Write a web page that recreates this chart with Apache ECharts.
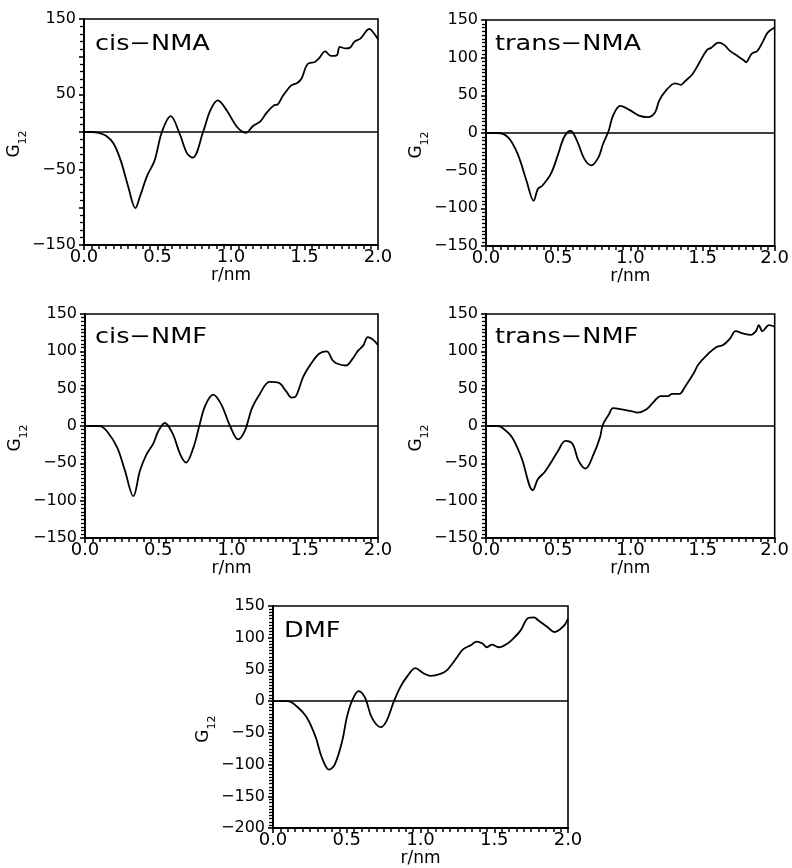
<!DOCTYPE html>
<html><head><meta charset="utf-8">
<script src="https://cdn.jsdelivr.net/npm/echarts@6/dist/echarts.min.js"></script>
<style>html,body{margin:0;padding:0;background:#fff}#c{width:792px;height:868px}</style>
</head><body><div id="c"></div>
<script>
// ---- data (r in nm, G12) ----
const cisNMA_r = [0,0.05,0.1,0.15,0.2,0.25,0.3,0.35,0.38,0.43,0.48,0.53,0.59,0.65,0.7,0.74,0.81,0.86,0.91,0.97,1.04,1.1,1.15,1.2,1.24,1.29,1.32,1.35,1.41,1.45,1.48,1.52,1.57,1.6,1.64,1.68,1.72,1.74,1.78,1.81,1.84,1.88,1.92,1.94,1.98,2.0];
const cisNMA_g = [0,0,-1,-5,-15,-38,-72,-101,-86,-58,-38,0,21,-2,-28,-34,0,29,42,29,7,-1,8,14,25,35,37,47,62,65,71,90,93,98,107,101,102,113,111,112,120,124,134,137,129,123];

const transNMA_r = [0,0.08,0.155,0.22,0.28,0.33,0.36,0.39,0.45,0.5,0.54,0.585,0.63,0.68,0.73,0.78,0.81,0.85,0.88,0.93,1.0,1.06,1.12,1.17,1.2,1.245,1.31,1.35,1.38,1.43,1.48,1.53,1.56,1.61,1.65,1.69,1.745,1.79,1.8,1.84,1.88,1.92,1.95,2.0];
const transNMA_g = [0,0,-6,-28,-63,-90,-74,-70,-54,-28,-6,3,-10,-34,-43,-32,-15,3,23,36,30,23,21,27,43,56,66,64,69,78,94,110,113,120,117,109,102,96,94,105,109,122,133,140];

const cisNMF_r = [0,0.1,0.15,0.22,0.27,0.33,0.375,0.42,0.465,0.5,0.545,0.6,0.65,0.69,0.74,0.78,0.82,0.875,0.93,0.99,1.045,1.09,1.14,1.19,1.26,1.32,1.375,1.41,1.44,1.49,1.545,1.6,1.65,1.69,1.715,1.78,1.83,1.86,1.9,1.93,1.97,2.0];
const cisNMF_g = [0,0,-7,-29,-58,-94,-60,-38,-24,-7,4,-11,-38,-49,-29,0,27,42,29,0,-18,-7,24,42,59,58,46,38,40,66,84,97,100,88,84,81,91,100,108,119,115,108];

const transNMF_r = [0,0.08,0.11,0.18,0.245,0.325,0.36,0.405,0.45,0.5,0.55,0.6,0.64,0.69,0.745,0.79,0.81,0.85,0.88,0.95,1.005,1.05,1.11,1.165,1.21,1.26,1.29,1.34,1.38,1.44,1.47,1.53,1.6,1.64,1.69,1.73,1.78,1.835,1.87,1.89,1.915,1.96,2.0];
const transNMF_g = [0,0,-2,-15,-42,-86,-71,-62,-49,-33,-20,-24,-46,-57,-38,-15,2,15,24,22,20,18,22,33,40,40,43,43,53,71,82,95,106,108,117,127,124,122,127,135,127,135,133];

const DMF_r = [0,0.1,0.16,0.23,0.29,0.33,0.38,0.42,0.47,0.5,0.535,0.58,0.625,0.67,0.73,0.77,0.82,0.865,0.91,0.965,1.02,1.07,1.135,1.18,1.25,1.29,1.34,1.38,1.42,1.45,1.485,1.53,1.59,1.63,1.68,1.73,1.77,1.8,1.86,1.91,1.95,1.98,2.0];
const DMF_g = [0,0,-8,-26,-57,-88,-108,-99,-62,-26,0,16,5,-26,-41,-31,0,23,39,52,44,40,43,49,70,82,88,94,91,85,89,85,91,99,112,131,132,127,117,109,114,121,130];

const panelNames = ['cis\u2212NMA','trans\u2212NMA','cis\u2212NMF','trans\u2212NMF','DMF'];
const xTickLabels = [0, 0.5, 1.0, 1.5, 2.0];
const yTicks_cisNMA = [-150,-50,50,150];
const yTicks_std = [-150,-100,-50,0,50,100,150];
const yTicks_DMF = [-200,-150,-100,-50,0,50,100,150];

// ---- layout ----
const FONT = 'DejaVu Sans';
const panels = [
  {r: cisNMA_r, g: cisNMA_g, ticks: yTicks_cisNMA, min:-150, max:150, minorSplit:5, grid:{left:84, top:19, width:294, height:226}, lab:[95,45]},
  {r: transNMA_r, g: transNMA_g, ticks: yTicks_std, min:-150, max:150, minorSplit:10, grid:{left:486, top:20, width:293, height:226}, lab:[495,45]},
  {r: cisNMF_r, g: cisNMF_g, ticks: yTicks_std, min:-150, max:150, minorSplit:10, grid:{left:85, top:314, width:293, height:224}, lab:[95,338]},
  {r: transNMF_r, g: transNMF_g, ticks: yTicks_std, min:-150, max:150, minorSplit:10, grid:{left:486, top:314, width:293, height:224}, lab:[495,338]},
  {r: DMF_r, g: DMF_g, ticks: yTicks_DMF, min:-200, max:150, minorSplit:10, grid:{left:273, top:606, width:295, height:225}, lab:[284,632]}
];

const fmtY = v => v < 0 ? '\u2212' + (-v) : String(v);

const grids = [], xAxes = [], yAxes = [], series = [], graphics = [];
panels.forEach((p, i) => {
  grids.push(Object.assign({show:true, borderColor:'#000', borderWidth:1.6, backgroundColor:'transparent', containLabel:false}, p.grid));
  xAxes.push({
    type:'value', gridIndex:i, min:0, max:2, interval:0.5,
    axisLine:{show:true, onZero:false, lineStyle:{color:'#000', width:2}},
    axisTick:{show:true, length:5, lineStyle:{color:'#000', width:1.6}},
    minorTick:{show:true, splitNumber:10, length:4, lineStyle:{color:'#000', width:1.5}},
    splitLine:{show:false},
    axisLabel:{color:'#000', fontFamily:FONT, fontSize:18, margin:3,
      formatter: v => xTickLabels.some(t => Math.abs(t - v) < 1e-9) ? v.toFixed(1) : ''},
    name:'r/nm', nameLocation:'middle', nameGap:21,
    nameTextStyle:{color:'#000', fontFamily:FONT, fontSize:17}
  });
  yAxes.push({
    type:'value', gridIndex:i, min:p.min, max:p.max, interval:50,
    axisLine:{show:true, onZero:false, lineStyle:{color:'#000', width:2}},
    axisTick:{show:true, length:5, lineStyle:{color:'#000', width:1.6}},
    minorTick:{show:true, splitNumber:p.minorSplit, length:4, lineStyle:{color:'#000', width:1.3}},
    splitLine:{show:false},
    axisLabel:{color:'#000', fontFamily:FONT, fontSize:16, margin:8,
      formatter: v => p.ticks.indexOf(v) >= 0 ? fmtY(v) : ''},
    name:'{g|G}{s|12}', nameLocation:'middle', nameGap:52, nameRotate:90,
    nameTextStyle:{color:'#000', fontFamily:FONT, padding:[0,24,0,0],
      rich:{
        g:{fontFamily:FONT, fontSize:17, color:'#000', lineHeight:22, verticalAlign:'top'},
        s:{fontFamily:FONT, fontSize:11, color:'#000', lineHeight:22, verticalAlign:'bottom'}
      }}
  });
  series.push({
    type:'line', xAxisIndex:i, yAxisIndex:i,
    data: p.r.map((x, k) => [x, p.g[k]]),
    smooth:0.35, showSymbol:false, symbol:'none',
    lineStyle:{color:'#000', width:1.8},
    animation:false,
    markLine:{silent:true, symbol:['none','none'], label:{show:false},
      lineStyle:{color:'#000', width:1.6, type:'solid'},
      data:[{yAxis:0}], animation:false}
  });
  graphics.push({
    type:'text', x:p.lab[0], y:p.lab[1], scaleX:1.22, scaleY:1,
    style:{text:panelNames[i], fill:'#000', font:'21px "' + FONT + '"', verticalAlign:'middle'}
  });
});

const chart = echarts.init(document.getElementById('c'), null, {renderer:'canvas'});
chart.setOption({
  animation:false,
  backgroundColor:'#fff',
  grid:grids, xAxis:xAxes, yAxis:yAxes, series:series, graphic:graphics
});
</script>
</body></html>
